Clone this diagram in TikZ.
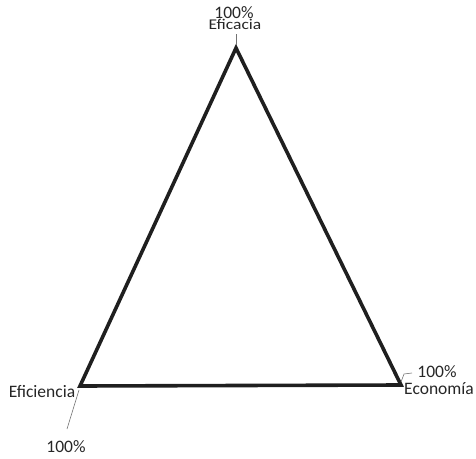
\documentclass[tikz,border=0pt]{standalone}
\usepackage{fontspec}
\setmainfont{Carlito}
\begin{document}
\begin{tikzpicture}[x=1bp,y=-1bp,
  lbl/.style={inner sep=0pt,text=black!85,font=\fontsize{17.5bp}{18bp}\selectfont},
  tri/.style={draw=black!88,line width=3.6bp,line join=miter},
  leader/.style={draw=black!55,line width=0.6bp}]
\useasboundingbox (0,0) rectangle (476,459);
\coordinate (top) at (236,48);
\coordinate (left) at (80,386);
\coordinate (right) at (401,385);
\draw[tri] (top) -- (right) -- (left) -- cycle;
% top labels
\node[lbl] (topPct) at (234,13) {100\%};
\node[lbl,yscale=0.85] (topName) at (235,24) {Eficacia};
\coordinate (topLeadEnd) at (236,34);
\draw[leader] (top) ++(0,-3) -- (topLeadEnd);
% left labels
\node[lbl] (leftName) at (42,392) {Eficiencia};
\node[lbl] (leftPct) at (66,447) {100\%};
\coordinate (leftLeadStart) at (79,390);
\coordinate (leftLeadEnd) at (67,429);
\draw[leader] (leftLeadStart) -- (leftLeadEnd);
% right labels
\node[lbl] (rightPct) at (437,372) {100\%};
\node[lbl] (rightName) at (439,389) {Economía};
\coordinate (rightLeadStart) at (401,382);
\coordinate (rightLeadMid) at (404,374);
\coordinate (rightLeadEnd) at (412,373);
\draw[leader] (rightLeadStart) -- (rightLeadMid) -- (rightLeadEnd);
\end{tikzpicture}
\end{document}
